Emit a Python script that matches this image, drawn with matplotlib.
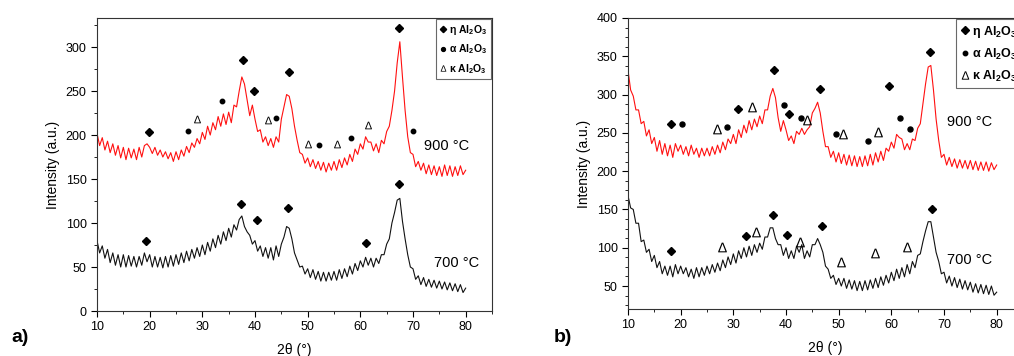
import numpy as np
import matplotlib
matplotlib.use("Agg")
import matplotlib.pyplot as plt
from matplotlib.lines import Line2D
from matplotlib.ticker import MultipleLocator

plt.rcParams['font.family'] = ['Liberation Sans', 'DejaVu Sans']
plt.rcParams['mathtext.default'] = 'regular'

# 2-theta grid (degrees), 0.5 deg step
two_theta = np.arange(10, 80.01, 0.5)

a_900 = [202,188,197,183,193,180,190,177,188,174,
         186,172,185,174,184,172,186,175,188,190,
         186,179,186,177,183,175,181,173,180,170,
         181,172,183,176,187,180,191,186,196,190,
         203,195,210,200,214,206,221,210,224,212,
         226,214,234,232,250,266,258,240,222,234,
         218,204,206,192,198,188,196,186,198,192,
         218,232,246,244,230,210,194,180,178,168,
         174,164,172,162,170,160,169,158,168,160,
         170,160,172,163,174,166,178,170,184,178,
         190,184,198,192,192,182,190,180,194,190,
         204,210,228,250,282,306,266,228,198,180,
         178,164,170,160,168,156,166,155,165,154,
         164,153,166,154,165,153,164,154,165,155,
         160]
a_700 = [80,66,74,60,70,55,66,52,64,50,
         64,50,63,51,62,50,62,52,66,56,
         64,50,62,50,61,49,62,50,63,51,
         64,53,66,55,68,57,70,60,72,62,
         75,64,78,68,82,72,86,76,90,80,
         94,84,98,92,104,108,96,90,86,76,
         80,68,74,62,72,60,72,58,74,62,
         76,84,96,94,82,66,58,50,51,42,
         48,38,47,36,45,34,44,34,44,35,
         45,35,47,37,48,39,51,42,54,46,
         57,50,61,52,60,50,60,54,64,64,
         76,82,100,112,126,128,102,82,64,50,
         48,36,40,30,38,28,36,27,35,26,
         34,25,33,24,32,23,31,22,30,21,
         26]
b_900 = [332,306,298,280,280,262,265,246,254,236,
         244,226,240,222,236,220,234,218,236,226,
         234,222,232,220,234,222,230,218,230,220,
         230,220,232,222,234,224,238,228,242,236,
         248,236,254,244,260,250,266,254,268,258,
         272,262,280,280,298,308,296,270,252,266,
         254,240,246,236,252,248,256,248,254,258,
         276,282,290,276,252,232,232,218,226,212,
         224,210,222,208,221,207,220,206,219,206,
         220,207,222,208,224,212,226,214,230,226,
         238,230,248,244,242,228,236,228,242,240,
         256,262,288,314,336,338,306,268,240,218,
         222,208,218,206,216,204,215,204,214,203,
         214,202,213,201,212,201,212,200,211,202,
         208]
b_700 = [168,152,150,132,132,108,110,94,98,82,
         90,74,82,66,76,64,76,62,78,66,
         76,66,74,62,72,60,74,62,74,64,
         76,66,78,68,80,70,84,74,88,78,
         92,80,96,86,100,88,102,90,104,94,
         106,98,114,114,126,126,112,104,104,90,
         100,86,96,86,102,94,104,86,96,88,
         104,104,112,104,94,76,72,60,64,52,
         60,50,60,47,58,46,57,44,56,44,
         57,45,58,47,60,48,62,51,64,54,
         68,57,72,60,74,62,78,66,82,74,
         90,92,108,122,134,134,114,94,82,66,
         68,54,63,50,61,48,59,46,57,45,
         55,42,53,41,52,40,51,39,50,38,
         42]

# Phase markers (2theta, intensity)
a_eta_x = [19.8, 37.7, 39.9, 46.5, 67.4, 19.3, 37.3, 40.3, 46.3, 61.1, 67.4]
a_eta_y = [204, 285, 250, 272, 322, 80, 122, 103, 117, 77, 144]
a_alpha_x = [27.3, 33.7, 43.9, 52.2, 58.2, 70.0]
a_alpha_y = [205, 239, 219, 189, 197, 205]
a_kappa_x = [29.0, 42.4, 50.0, 55.6, 61.4]
a_kappa_y = [218, 217, 190, 190, 211]

b_eta_x = [18.1, 30.9, 37.7, 40.6, 46.5, 59.6, 67.4, 18.2, 32.4, 37.5, 40.1, 46.9, 67.8]
b_eta_y = [262, 281, 332, 275, 307, 311, 356, 96, 115, 143, 116, 129, 150]
b_alpha_x = [20.3, 28.8, 39.6, 42.9, 49.4, 55.5, 61.6, 63.5]
b_alpha_y = [261, 258, 287, 269, 249, 240, 269, 255]
b_kappa_x = [26.9, 33.6, 43.9, 50.8, 57.4, 27.9, 34.3, 42.7, 50.5, 56.9, 62.9]
b_kappa_y = [255, 284, 267, 248, 251, 101, 120, 108, 82, 93, 101]

legend_labels = ['η Al$_2$O$_3$', 'α Al$_2$O$_3$', 'κ Al$_2$O$_3$']

fig = plt.figure(figsize=(10.14, 3.56), dpi=100)
W, H = 1014, 356

def make_axes(left, right, top, bottom):
    return fig.add_axes([left / W, 1 - bottom / H, (right - left) / W, (bottom - top) / H])

axA = make_axes(97, 492, 18, 311)
axB = make_axes(628, 1023, 18, 309)

TRI = r'$\Delta$'

def style(ax, ylim, ymaj, ymin):
    ax.set_xlim(10, 85)
    ax.set_ylim(*ylim)
    ax.xaxis.set_major_locator(MultipleLocator(10))
    ax.xaxis.set_minor_locator(MultipleLocator(5))
    ax.yaxis.set_major_locator(MultipleLocator(ymaj))
    ax.yaxis.set_minor_locator(MultipleLocator(ymin))
    ax.tick_params(which='major', direction='out', length=4, width=0.8, labelsize=9, top=False, right=False)
    ax.tick_params(which='minor', direction='out', length=2, width=0.6, top=False, right=False)
    ax.set_xticks([10, 20, 30, 40, 50, 60, 70, 80])
    for s in ax.spines.values():
        s.set_linewidth(0.8)
        s.set_color('#333333')
    ax.set_xlabel('2θ (°)', fontsize=10, labelpad=7)
    ax.set_ylabel('Intensity (a.u.)', fontsize=10)

def draw(ax, y900, y700, eta, alpha, kappa, tsize, dsize, csize):
    ax.plot(two_theta, y900, color='#ff1010', lw=0.8)
    ax.plot(two_theta, y700, color='#111111', lw=0.8)
    ax.plot(eta[0], eta[1], ls='none', marker='D', ms=dsize, color='black')
    ax.plot(alpha[0], alpha[1], ls='none', marker='o', ms=csize, color='black')
    ax.plot(kappa[0], kappa[1], ls='none', marker=TRI, ms=tsize, color='black', markeredgewidth=0)

# Panel a
draw(axA, a_900, a_700, (a_eta_x, a_eta_y), (a_alpha_x, a_alpha_y), (a_kappa_x, a_kappa_y), 5.5, 3.6, 3.2)
style(axA, (0, 333), 50, 25)
axA.text(76.3, 188, '900 °C', fontsize=10.5, ha='center', va='center')
axA.text(78.2, 55, '700 °C', fontsize=10.5, ha='center', va='center')
hA = [Line2D([], [], ls='none', marker='D', ms=3.2, color='black'),
      Line2D([], [], ls='none', marker='o', ms=2.8, color='black'),
      Line2D([], [], ls='none', marker=TRI, ms=4.5, color='black', markeredgewidth=0)]
legA = axA.legend(hA, legend_labels, loc='upper right', prop={'weight': 'bold', 'size': 7.5},
                  frameon=True, fancybox=False, edgecolor='#444444', handlelength=0.6, handletextpad=0.3,
                  borderaxespad=0.1, borderpad=0.35, labelspacing=0.55)
legA.get_frame().set_linewidth(0.8)

# Panel b
draw(axB, b_900, b_700, (b_eta_x, b_eta_y), (b_alpha_x, b_alpha_y), (b_kappa_x, b_kappa_y), 7, 4, 3.6)
style(axB, (20, 400), 50, 12.5)
axB.text(74.8, 264, '900 °C', fontsize=10.5, ha='center', va='center')
axB.text(74.8, 84, '700 °C', fontsize=10.5, ha='center', va='center')
hB = [Line2D([], [], ls='none', marker='D', ms=3.8, color='black'),
      Line2D([], [], ls='none', marker='o', ms=3.2, color='black'),
      Line2D([], [], ls='none', marker=TRI, ms=6, color='black', markeredgewidth=0)]
legB = axB.legend(hB, legend_labels, loc='upper right', prop={'weight': 'bold', 'size': 9},
                  frameon=True, fancybox=False, edgecolor='#444444', handlelength=0.6, handletextpad=0.3,
                  borderaxespad=0.1, borderpad=0.35, labelspacing=0.55)
legB.get_frame().set_linewidth(0.8)

fig.text(20 / W, 1 - 337 / H, 'a)', fontsize=14, fontweight='bold', ha='center', va='center')
fig.text(563 / W, 1 - 338 / H, 'b)', fontsize=14, fontweight='bold', ha='center', va='center')

fig.savefig('out.png', dpi=100)
